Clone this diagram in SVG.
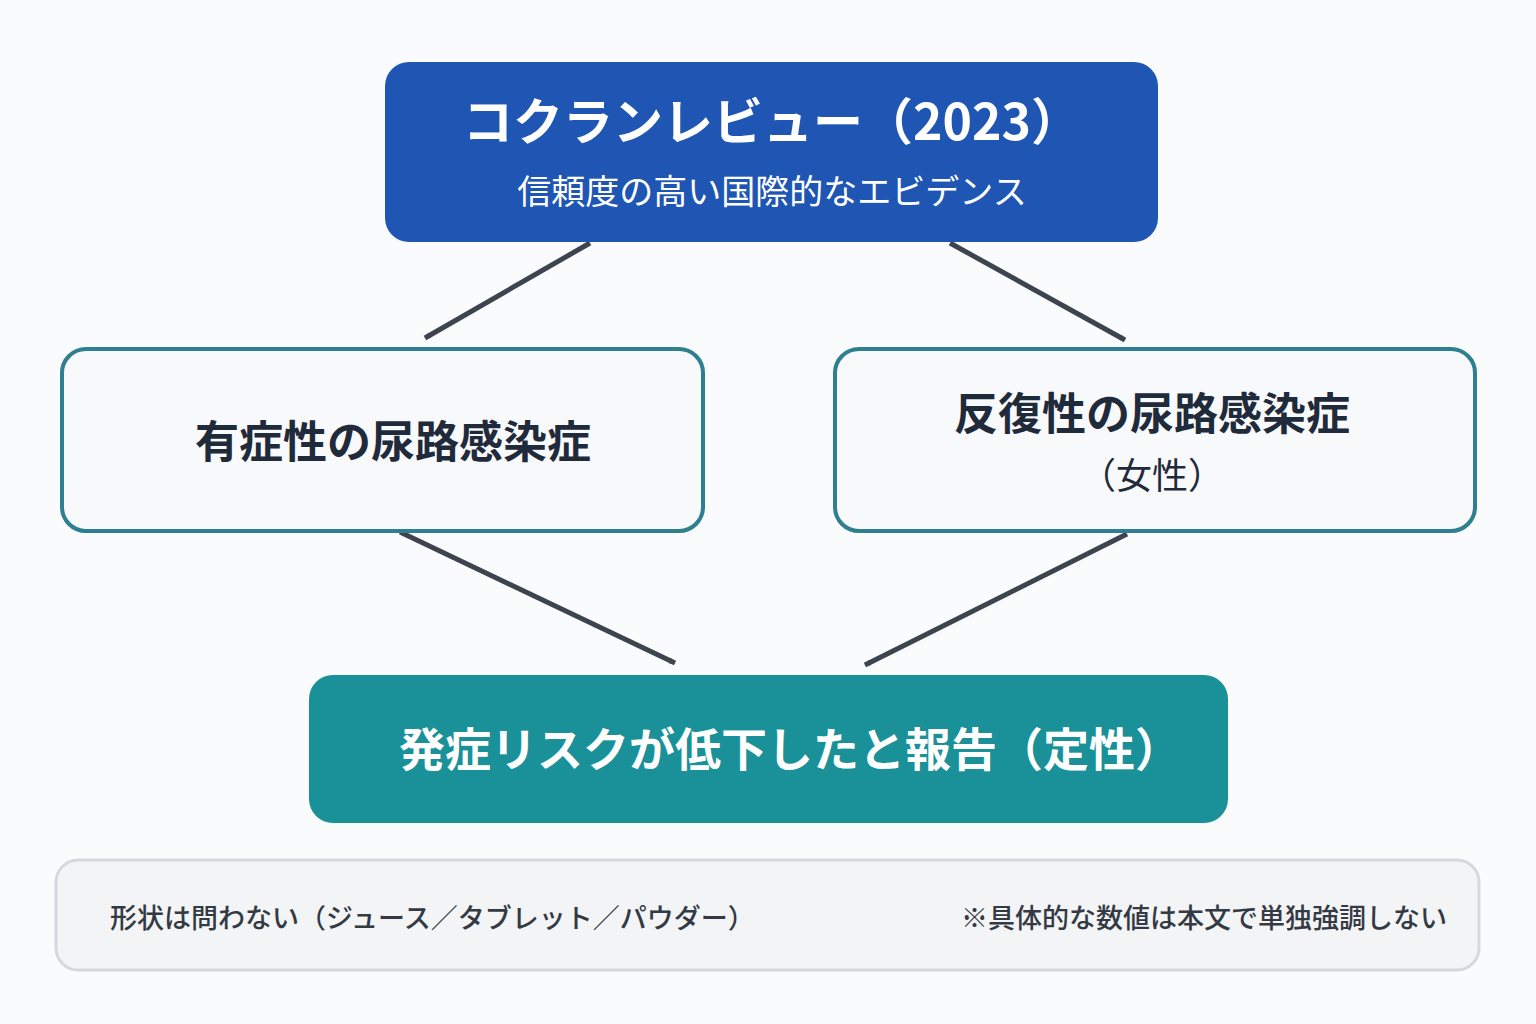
<svg xmlns="http://www.w3.org/2000/svg" width="1536" height="1024" viewBox="0 0 1536 1024">
<style>
text{font-family:"Noto Sans CJK JP","Noto Sans",sans-serif;text-anchor:middle}
.w{fill:#fff;font-weight:700}
.d{fill:#1f2a3a;font-weight:700;font-size:44px}
.c{stroke:#3d4450;stroke-width:5;fill:none;marker-end:url(#a)}
.n{fill:#f7f9fb;stroke:#2e7f90;stroke-width:4}
.note{fill:#333a44;font-size:27px;font-weight:500}
</style>
<defs><marker id="a" viewBox="0 0 10 10" refX="9" refY="5" markerWidth="6" markerHeight="6" orient="auto" markerUnits="userSpaceOnUse" style="overflow:visible"><path d="M0,0 L10,5 L0,10 z" fill="#3d4450" transform="scale(1)"/></marker></defs>
<rect width="1536" height="1024" fill="#fafbfc"/>
<g id="connectors">
<line class="c" x1="590" y1="243" x2="425" y2="338"/>
<line class="c" x1="950" y1="243" x2="1125" y2="340"/>
<line class="c" x1="400" y1="532" x2="675" y2="663"/>
<line class="c" x1="1127" y1="534" x2="865" y2="665"/>
</g>
<g id="top"><rect x="385" y="62" width="773" height="180" rx="24" fill="#1f56b4"/>
<text class="w" x="772" y="140" font-size="50">コクランレビュー（2023）</text>
<text x="772" y="204" font-size="34" fill="#fff">信頼度の高い国際的なエビデンス</text></g>
<g id="left"><rect class="n" x="62" y="349" width="641" height="182" rx="24"/>
<text class="d" x="393" y="458">有症性の尿路感染症</text></g>
<g id="right"><rect class="n" x="835" y="349" width="640" height="182" rx="24"/>
<text class="d" x="1152" y="430">反復性の尿路感染症</text>
<text x="1152" y="489" font-size="36" fill="#1f2a3a">（女性）</text></g>
<g id="result"><rect x="309" y="675" width="919" height="148" rx="24" fill="#1a9199"/>
<text class="w" x="790" y="766" font-size="46">発症リスクが低下したと報告（定性）</text></g>
<g id="note"><rect x="56" y="860" width="1423" height="110" rx="22" fill="#f3f4f6" stroke="#d5d8dd" stroke-width="3"/>
<text class="note" x="110" y="928" style="text-anchor:start">形状は問わない（ジュース／タブレット／パウダー）</text>
<text class="note" x="1447" y="928" style="text-anchor:end">※具体的な数値は本文で単独強調しない</text></g>
</svg>
